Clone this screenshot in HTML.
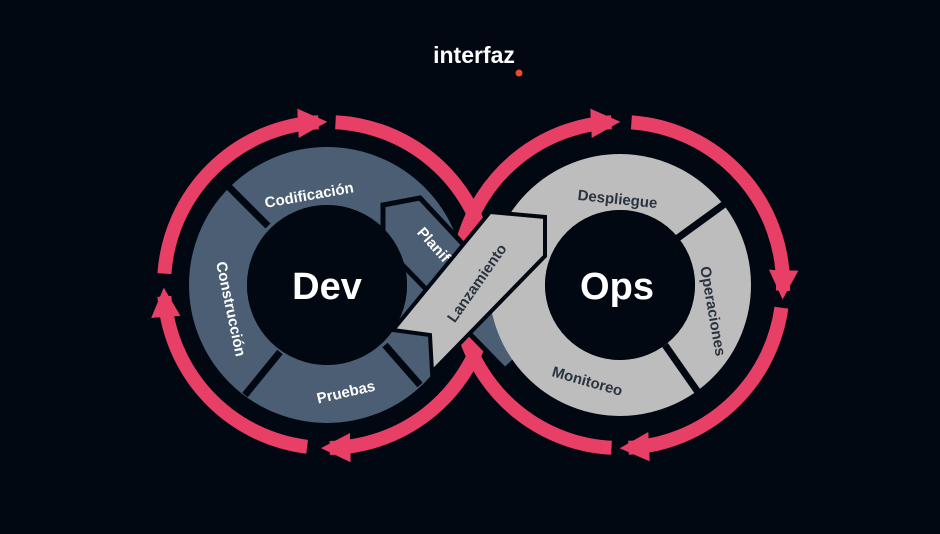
<!DOCTYPE html>
<html><head><meta charset="utf-8"><style>
html,body{margin:0;padding:0;background:#020812;}
svg{display:block;}
text{font-family:"Liberation Sans",sans-serif;font-weight:bold;}
</style></head><body>
<svg width="940" height="534" viewBox="0 0 940 534" xmlns="http://www.w3.org/2000/svg">
<defs>
<marker id="ah" viewBox="0 0 10 10" refX="7" refY="5" markerWidth="2.1" markerHeight="2.1" orient="auto" markerUnits="strokeWidth">
<path d="M0,0 L10,5 L0,10 z" fill="#e83f66"/>
</marker>
</defs>
<rect width="940" height="534" fill="#020812"/>
<text x="474" y="63" fill="#fff" font-size="23" text-anchor="middle">interfaz</text>
<circle cx="519" cy="73" r="3.5" fill="#ee4a2a"/>

<g fill="none" stroke="#e83f66" stroke-width="14">
<path d="M484.4,327.2 A163,163 0 0 1 329.8,448" marker-end="url(#ah)"/>
<path d="M307.1,446.8 A163,163 0 0 1 164.4,296.4" marker-end="url(#ah)"/>
<path d="M164.4,273.6 A163,163 0 0 1 318.5,122.2" marker-end="url(#ah)"/>
<path d="M335.5,122.2 A163,163 0 0 1 484.4,242.8"/>
<path d="M462.6,242.8 A163,163 0 0 1 611.5,122.2" marker-end="url(#ah)"/>
<path d="M631.4,122.4 A163,163 0 0 1 782.9,290.7" marker-end="url(#ah)"/>
<path d="M781.4,307.7 A163,163 0 0 1 628.5,447.8" marker-end="url(#ah)"/>
<path d="M611.5,447.8 A163,163 0 0 1 462.6,327.2"/>
</g>

<!-- Dev ring -->
<circle cx="327" cy="285" r="109" fill="none" stroke="#4b5e74" stroke-width="58"/>
<g stroke="#020812" stroke-width="7">
<line x1="268" y1="226" x2="225" y2="183"/>
<line x1="280" y1="352" x2="245" y2="395"/>
<line x1="385" y1="345" x2="420" y2="385"/>
</g>
<!-- Planificacion band -->
<polygon points="383,205 420,198 545,332 505,370 383,245" fill="#4b5e74" stroke="#020812" stroke-width="5"/>

<!-- Ops ring -->
<circle cx="620" cy="285" r="103" fill="none" stroke="#bdbdbd" stroke-width="56"/>
<g stroke="#020812" stroke-width="7">
<line x1="675" y1="240" x2="730" y2="200"/>
<line x1="665" y1="345" x2="700" y2="395"/>
</g>
<!-- Lanzamiento band -->
<polygon points="393,330 490,212 545,217 545,256 432,372 430,335" fill="#bdbdbd" stroke="#020812" stroke-width="4"/>

<circle cx="327" cy="285" r="80" fill="#020812"/>
<circle cx="620" cy="285" r="75" fill="#020812"/>

<text x="327" y="299" fill="#fff" font-size="38" text-anchor="middle">Dev</text>
<text x="617" y="299" fill="#fff" font-size="38" text-anchor="middle">Ops</text>

<g font-size="15" text-anchor="middle">
<text transform="translate(310,200) rotate(-10)" fill="#fff">Codificación</text>
<text transform="translate(226,310) rotate(78)" fill="#fff">Construcción</text>
<text transform="translate(430,248) rotate(48)" fill="#fff">Planif</text>
<text transform="translate(347,397) rotate(-13)" fill="#fff">Pruebas</text>
<text transform="translate(481,286) rotate(-55)" fill="#2a3440">Lanzamiento</text>
<text transform="translate(617,204) rotate(6)" fill="#2a3440">Despliegue</text>
<text transform="translate(708,312) rotate(80)" fill="#2a3440">Operaciones</text>
<text transform="translate(586,386) rotate(16)" fill="#2a3440">Monitoreo</text>
</g>
</svg>
</body></html>
